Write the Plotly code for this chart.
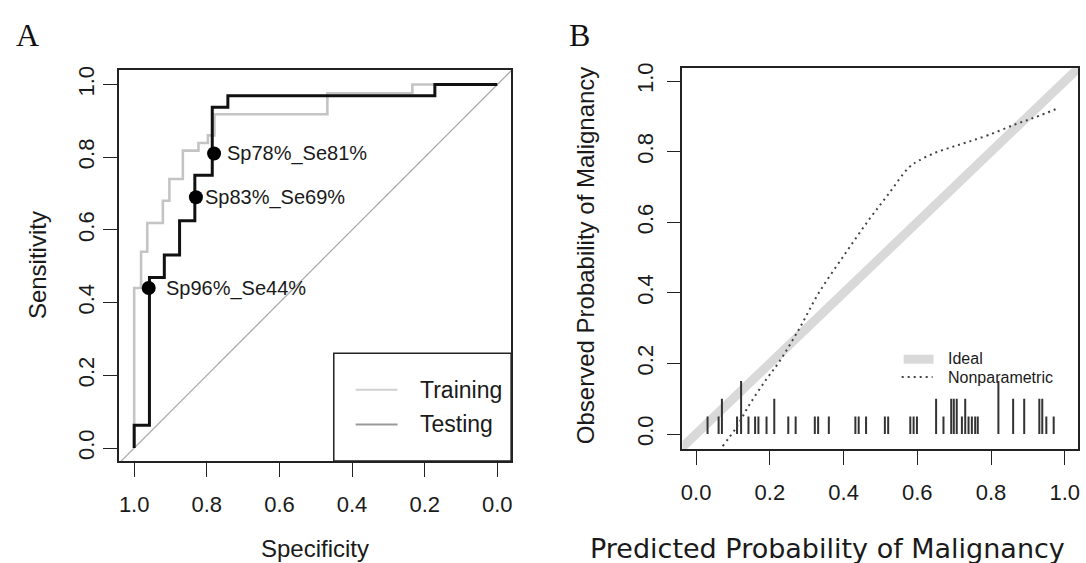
import plotly.graph_objects as go

W, H = 1086, 563

# ---------------- Panel A data (ROC) ----------------
train_spec = [1.0, 0.981, 0.964, 0.921, 0.903, 0.866, 0.823, 0.797, 0.779, 0.468, 0.234, 0.0]
train_sens = [0.0, 0.44, 0.54, 0.619, 0.68, 0.74, 0.818, 0.839, 0.86, 0.918, 0.976, 1.0]
test_spec = [1.0, 0.958, 0.917, 0.875, 0.833, 0.785, 0.742, 0.172, 0.0]
test_sens = [0.0, 0.0625, 0.469, 0.531, 0.625, 0.75, 0.9375, 0.969, 1.0]
cut_spec = [0.78, 0.83, 0.96]
cut_sens = [0.81, 0.69, 0.44]
cut_labels = ["Sp78%_Se81%", "Sp83%_Se69%", "Sp96%_Se44%"]
chance_spec = [1.1, -0.1]
chance_sens = [-0.1, 1.1]
ticks_a = [1.0, 0.8, 0.6, 0.4, 0.2, 0.0]
ticks_a_y = [0.0, 0.2, 0.4, 0.6, 0.8, 1.0]

# ---------------- Panel B data (calibration) ----------------
ideal_x = [-0.1, 1.1]
ideal_y = [-0.1, 1.1]
np_pred = [0.072, 0.108, 0.144, 0.189, 0.225, 0.279, 0.333, 0.405, 0.468, 0.522,
           0.577, 0.603, 0.649, 0.694, 0.739, 0.793, 0.865, 0.919, 0.982]
np_obs = [-0.034, 0.017, 0.082, 0.153, 0.204, 0.297, 0.40, 0.512, 0.606, 0.68,
          0.755, 0.774, 0.797, 0.813, 0.828, 0.847, 0.877, 0.897, 0.923]
rug_x = [0.031, 0.061, 0.070, 0.111, 0.122, 0.142, 0.160, 0.169, 0.191, 0.212,
         0.250, 0.270, 0.322, 0.331, 0.360, 0.432, 0.441, 0.461, 0.512, 0.521,
         0.581, 0.590, 0.599, 0.651, 0.671, 0.692, 0.699, 0.707, 0.721, 0.730,
         0.739, 0.748, 0.757, 0.764, 0.820, 0.860, 0.890, 0.931, 0.939, 0.950, 0.970]
rug_n = [1, 1, 2, 1, 3, 1, 1, 1, 1, 2,
         1, 1, 1, 1, 1, 1, 1, 1, 1, 1,
         1, 1, 1, 2, 1, 2, 2, 2, 1, 2,
         1, 1, 1, 1, 3, 2, 2, 2, 2, 1, 1]
rug_unit = 0.05
ticks_b = [0.0, 0.2, 0.4, 0.6, 0.8, 1.0]


def px(x):
    return x / W


def py(y):
    return 1 - y / H


FONT = "Liberation Sans, Arial, sans-serif"
TXT = "#1a1a1a"

fig = go.Figure()

# Panel A traces
fig.add_trace(go.Scatter(x=chance_spec, y=chance_sens, mode="lines",
                         line=dict(color="#a8a8a8", width=1.2),
                         xaxis="x", yaxis="y", showlegend=False, hoverinfo="skip"))
fig.add_trace(go.Scatter(x=train_spec, y=train_sens, mode="lines", line_shape="vh",
                         line=dict(color="#c4c4c4", width=2.6), name="Training",
                         xaxis="x", yaxis="y", showlegend=False))
fig.add_trace(go.Scatter(x=test_spec, y=test_sens, mode="lines", line_shape="vh",
                         line=dict(color="#111111", width=3), name="Testing",
                         xaxis="x", yaxis="y", showlegend=False))
fig.add_trace(go.Scatter(x=cut_spec, y=cut_sens, mode="markers",
                         marker=dict(color="black", size=14),
                         xaxis="x", yaxis="y", showlegend=False))

# Panel B traces
fig.add_trace(go.Scatter(x=ideal_x, y=ideal_y, mode="lines",
                         line=dict(color="#d9d9d9", width=9), name="Ideal",
                         xaxis="x2", yaxis="y2", showlegend=False))
rx, ry = [], []
for xv, n in zip(rug_x, rug_n):
    rx += [xv, xv, None]
    ry += [0, n * rug_unit, None]
fig.add_trace(go.Scatter(x=rx, y=ry, mode="lines",
                         line=dict(color="#333333", width=2),
                         xaxis="x2", yaxis="y2", showlegend=False, hoverinfo="skip"))
fig.add_trace(go.Scatter(x=np_pred, y=np_obs, mode="lines", line_shape="spline",
                         line=dict(color="#444444", width=2, dash="2px,4px"),
                         name="Nonparametric",
                         xaxis="x2", yaxis="y2", showlegend=False))

axis_common = dict(showline=True, mirror=True, linecolor="#222", linewidth=1.5,
                   ticks="outside", ticklen=14, tickwidth=1.3, tickcolor="#222",
                   showgrid=False, zeroline=False,
                   tickfont=dict(family=FONT, size=22, color=TXT))

fig.update_layout(
    width=W, height=H,
    margin=dict(l=0, r=0, t=0, b=0),
    paper_bgcolor="white", plot_bgcolor="white",
    showlegend=False,
    xaxis=dict(domain=[px(117), px(511)], range=[1.043, -0.038], anchor="y",
               tickvals=ticks_a, ticktext=[f"{v:.1f}" for v in ticks_a],
               ticklabelstandoff=9, **axis_common),
    yaxis=dict(domain=[py(460), py(65)], range=[-0.036, 1.039], anchor="x",
               tickvals=ticks_a_y, ticktext=[f"{v:.1f}" for v in ticks_a_y],
               tickangle=-90, ticklabelstandoff=0, **axis_common),
    xaxis2=dict(domain=[px(683), px(1080)], range=[-0.037, 1.036], anchor="y2",
                tickvals=ticks_b, ticktext=[f"{v:.1f}" for v in ticks_b],
                ticklabelstandoff=9, **axis_common),
    yaxis2=dict(domain=[py(448), py(63)], range=[-0.043, 1.036], anchor="x2",
                tickvals=ticks_b, ticktext=[f"{v:.1f}" for v in ticks_b],
                tickangle=-90, ticklabelstandoff=5, **axis_common),
)

shapes = []
annotations = []

# Legend A (box, lines, text)
shapes.append(dict(type="rect", xref="paper", yref="paper",
                   x0=px(333), x1=px(511), y0=py(460), y1=py(351),
                   line=dict(color="#222", width=1.5), fillcolor="white", layer="above"))
shapes.append(dict(type="line", xref="paper", yref="paper",
                   x0=px(355), x1=px(397), y0=py(388), y1=py(388),
                   line=dict(color="#d0d0d0", width=2)))
shapes.append(dict(type="line", xref="paper", yref="paper",
                   x0=px(355), x1=px(397), y0=py(423), y1=py(423),
                   line=dict(color="#999999", width=2)))
for label, yy in [("Training", 388), ("Testing", 423)]:
    annotations.append(dict(text=label, xref="paper", yref="paper", x=px(418), y=py(yy),
                            xanchor="left", yanchor="middle", showarrow=False,
                            font=dict(family=FONT, size=23, color=TXT)))

# Legend B
shapes.append(dict(type="line", xref="paper", yref="paper",
                   x0=px(905), x1=px(935), y0=py(357), y1=py(357),
                   line=dict(color="#d9d9d9", width=9)))
shapes.append(dict(type="line", xref="paper", yref="paper",
                   x0=px(903), x1=px(934), y0=py(375), y1=py(375),
                   line=dict(color="#444444", width=2, dash="2px,4px")))
for label, yy in [("Ideal", 356), ("Nonparametric", 375)]:
    annotations.append(dict(text=label, xref="paper", yref="paper", x=px(947), y=py(yy),
                            xanchor="left", yanchor="middle", showarrow=False,
                            font=dict(family=FONT, size=16, color=TXT)))

# Cut-point labels
for sx, sy, lab, shift in zip(cut_spec, cut_sens, cut_labels, [11, 7, 15]):
    annotations.append(dict(text=lab, x=sx, y=sy, xref="x", yref="y",
                            xanchor="left", yanchor="middle", xshift=shift,
                            showarrow=False, font=dict(family=FONT, size=20, color=TXT)))

# Axis titles
annotations += [
    dict(text="Specificity", xref="paper", yref="paper", x=px(314), y=py(548),
         showarrow=False, xanchor="center", yanchor="middle",
         font=dict(family=FONT, size=24, color=TXT)),
    dict(text="Sensitivity", xref="paper", yref="paper", x=px(35), y=py(262),
         showarrow=False, textangle=-90, xanchor="center", yanchor="middle",
         font=dict(family=FONT, size=24, color=TXT)),
    dict(text="Predicted Probability of Malignancy", xref="paper", yref="paper",
         x=px(829), y=py(548), showarrow=False, xanchor="center", yanchor="middle",
         font=dict(family="DejaVu Sans, sans-serif", size=27, color=TXT)),
    dict(text="Observed Probability of Malignancy", xref="paper", yref="paper",
         x=px(585), y=py(252), showarrow=False, textangle=-90,
         xanchor="center", yanchor="middle",
         font=dict(family=FONT, size=24, color=TXT)),
    dict(text="A", xref="paper", yref="paper", x=px(26), y=py(29), showarrow=False,
         xanchor="center", yanchor="middle",
         font=dict(family="Liberation Serif, Times New Roman, serif", size=32, color="#111")),
    dict(text="B", xref="paper", yref="paper", x=px(580), y=py(29), showarrow=False,
         xanchor="center", yanchor="middle",
         font=dict(family="Liberation Serif, Times New Roman, serif", size=32, color="#111")),
]

fig.update_layout(shapes=shapes, annotations=annotations)
fig.write_html("out.html")
